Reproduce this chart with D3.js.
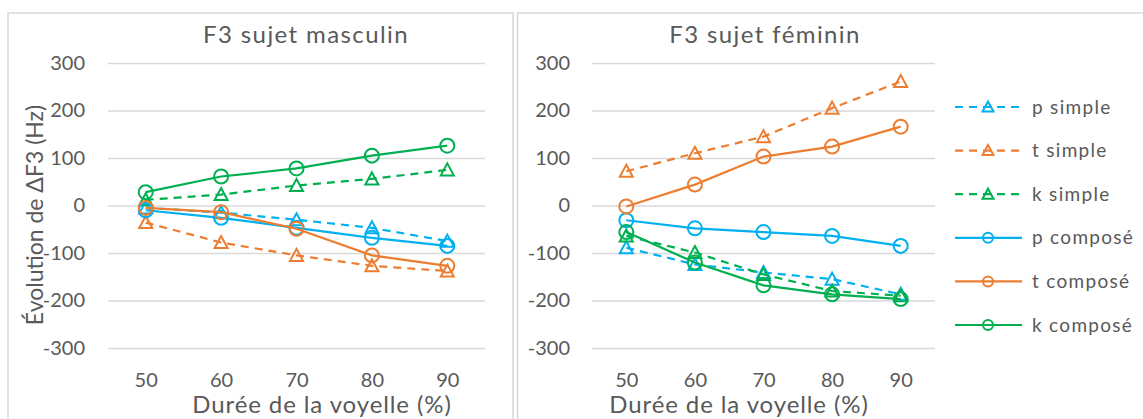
<!DOCTYPE html>
<html><head><meta charset="utf-8">
<script src="https://cdn.jsdelivr.net/npm/d3@7"></script>
<style>body{margin:0;background:#fff}svg{display:block}</style>
</head><body>
<svg id="c" width="1143" height="419"></svg>
<script>
const categories = [50, 60, 70, 80, 90];
const yTicks = [-300, -200, -100, 0, 100, 200, 300];
const seriesNames = ["p simple", "t simple", "k simple", "p composé", "t composé", "k composé"];
const panelTitles = ["F3 sujet masculin", "F3 sujet féminin"];
const xTitle = "Durée de la voyelle (%)";
const yTitle = "Évolution de ΔF3 (Hz)";

// Masculin
const pSimpleM = [-5, -15, -30, -47, -75];
const tSimpleM = [-36, -78, -105, -127, -138];
const kSimpleM = [12, 23, 42, 56, 75];
const pComposeM = [-10, -26, -47, -68, -85];
const tComposeM = [-5, -14, -49, -105, -127];
const kComposeM = [28, 61, 78, 105, 126];
// Féminin
const pSimpleF = [-89, -124, -141, -155, -187];
const tSimpleF = [72, 110, 145, 205, 261];
const kSimpleF = [-64, -99, -145, -180, -190];
const pComposeF = [-31, -48, -56, -64, -85];
const tComposeF = [-2, 44, 103, 124, 166];
const kComposeF = [-56, -120, -168, -187, -197];

const colors = {p: "#00B0F0", t: "#ED7D31", k: "#00B050"};
const styleOf = i => ({
  color: [colors.p, colors.t, colors.k][i % 3],
  dashed: i < 3,
  marker: i < 3 ? "triangle" : "circle"
});

const svg = d3.select("#c");
const FONT = "Lato, 'Open Sans', sans-serif";
const GRAY = "#595959";

// panel borders
svg.append("rect").attr("x", 8).attr("y", 13).attr("width", 505).attr("height", 420)
  .attr("fill", "none").attr("stroke", "#d9d9d9").attr("stroke-width", 1.5);
svg.append("rect").attr("x", 517.5).attr("y", 13).attr("width", 640).attr("height", 420)
  .attr("fill", "none").attr("stroke", "#d9d9d9").attr("stroke-width", 1.5);

const triPath = "M0,-6.5L6.5,5.5L-6.5,5.5Z";

function drawMarker(g, type, cx, cy, color) {
  if (type === "circle") {
    g.append("circle").attr("cx", cx).attr("cy", cy).attr("r", 7)
      .attr("fill", "none").attr("stroke", color).attr("stroke-width", 2);
  } else {
    g.append("path").attr("d", triPath).attr("transform", `translate(${cx},${cy})`)
      .attr("fill", "none").attr("stroke", color).attr("stroke-width", 2)
      .attr("stroke-linejoin", "miter");
  }
}

function panel(cfg) {
  const x = d3.scalePoint().domain(categories).range([cfg.x0, cfg.x1]).padding(0.5);
  const y = d3.scaleLinear().domain([-300, 300]).range([348, 63]);
  const g = svg.append("g");

  // grid
  const grid = g.append("g").attr("transform", `translate(${cfg.x0},0)`)
    .call(d3.axisLeft(y).tickValues(yTicks).tickSize(-(cfg.x1 - cfg.x0)).tickFormat(""));
  grid.select(".domain").remove();
  grid.selectAll("line").attr("stroke", "#d9d9d9").attr("stroke-width", 1.6);

  // y labels
  const yl = g.append("g").attr("transform", `translate(${cfg.x0},0)`)
    .call(d3.axisLeft(y).tickValues(yTicks).tickSize(0).tickPadding(cfg.yPad).tickFormat(d => String(d)));
  yl.select(".domain").remove();
  yl.selectAll("text").attr("font-family", FONT).attr("font-size", 20).attr("fill", GRAY);

  // x labels
  const xl = g.append("g").attr("transform", `translate(0,372)`)
    .call(d3.axisBottom(x).tickSize(0).tickPadding(0));
  xl.select(".domain").remove();
  xl.selectAll("text").attr("font-family", FONT).attr("font-size", 20).attr("fill", GRAY)
    .attr("dy", "0.35em").attr("y", 8);

  // title
  g.append("text").attr("x", cfg.titleX).attr("y", 43).attr("text-anchor", "middle")
    .attr("font-family", FONT).attr("font-size", 24).attr("letter-spacing", 1.4)
    .attr("fill", GRAY).text(cfg.title);
  // x title
  g.append("text").attr("x", cfg.xTitleX).attr("y", 413).attr("text-anchor", "middle")
    .attr("font-family", FONT).attr("font-size", 24).attr("letter-spacing", 0.9)
    .attr("fill", GRAY).text(xTitle);
  if (cfg.yTitle) {
    g.append("text").attr("transform", `translate(43,215) rotate(-90)`).attr("text-anchor", "middle")
      .attr("font-family", FONT).attr("font-size", 23).attr("fill", GRAY).text(yTitle);
  }

  const line = d3.line().x((d, i) => x(categories[i])).y(d => y(d));
  cfg.series.forEach((vals, i) => {
    const s = styleOf(i);
    const sg = g.append("g");
    sg.append("path").datum(vals).attr("d", line).attr("fill", "none")
      .attr("stroke", s.color).attr("stroke-width", 2.2)
      .attr("stroke-dasharray", s.dashed ? "8,6" : null);
    vals.forEach((v, j) => drawMarker(sg, s.marker, x(categories[j]), y(v), s.color));
  });
}

panel({x0: 108, x1: 485, yPad: 23, title: panelTitles[0], titleX: 306, xTitleX: 322, yTitle: true,
  series: [pSimpleM, tSimpleM, kSimpleM, pComposeM, tComposeM, kComposeM]});
panel({x0: 592, x1: 935, yPad: 22, title: panelTitles[1], titleX: 765, xTitleX: 739, yTitle: false,
  series: [pSimpleF, tSimpleF, kSimpleF, pComposeF, tComposeF, kComposeF]});

// legend
const lg = svg.append("g");
const lx0 = 955, lx1 = 1022, lmx = 988, ly0 = 107, ldy = 43.6;
seriesNames.forEach((name, i) => {
  const s = styleOf(i);
  const yy = ly0 + i * ldy;
  lg.append("line").attr("x1", lx0).attr("x2", lx1).attr("y1", yy).attr("y2", yy)
    .attr("stroke", s.color).attr("stroke-width", 2.2)
    .attr("stroke-dasharray", s.dashed ? "8,6" : null);
  if (s.marker === "circle") {
    lg.append("circle").attr("cx", lmx).attr("cy", yy).attr("r", 5)
      .attr("fill", "none").attr("stroke", s.color).attr("stroke-width", 2);
  } else {
    lg.append("path").attr("d", "M0,-5.5L5.5,4.5L-5.5,4.5Z").attr("transform", `translate(${lmx},${yy})`)
      .attr("fill", "none").attr("stroke", s.color).attr("stroke-width", 2);
  }
  lg.append("text").attr("x", 1032).attr("y", yy).attr("dy", "0.35em")
    .attr("font-family", FONT).attr("font-size", 19).attr("letter-spacing", 1.3)
    .attr("fill", GRAY).text(name);
});
</script>
</body></html>
